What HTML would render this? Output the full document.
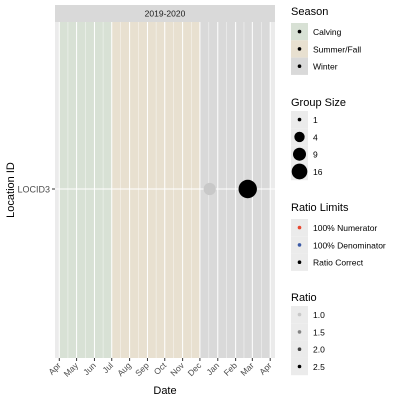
<!DOCTYPE html>
<html><head><meta charset="utf-8"><style>
body{margin:0;background:#fff;font-family:"Liberation Sans",sans-serif}
svg text{font-family:"Liberation Sans",sans-serif}
</style></head><body>
<svg width="400" height="400" xmlns="http://www.w3.org/2000/svg">
<g id="plot"></g>
<g id="legend"></g>
</svg>
<script>
const months=["Apr","May","Jun","Jul","Aug","Sep","Oct","Nov","Dec","Jan","Feb","Mar","Apr"];
const monthDays=[0,30,61,91,122,153,183,214,244,275,306,335,366];
const seasonNames=["Calving","Summer/Fall","Winter"];
const seasonStart=[0,91,244];
const seasonEnd=[91,244,366];
const seasonColors=["#d8e1d5","#e8e0d0","#d9d9d9"];
const pointDays=[261,327];
const pointSizes=[4,16];
const pointRatios=[1.0,2.5];
const locations=["LOCID3"];
const NS="http://www.w3.org/2000/svg";
const P={l:55,r:275,t:22,b:358};
const x=d=>59.3+d*(270.2-59.3)/366;
const y=i=>189;
const rad=s=>3+Math.sqrt(s)*1.55;
const ratioCol=r=>{const v=Math.round(200-(r-1)/1.5*200);return `rgb(${v},${v},${v})`};
function el(t,a,p){const e=document.createElementNS(NS,t);for(const k in a)e.setAttribute(k,a[k]);p.appendChild(e);return e}
const g=document.getElementById('plot');
let e=el('rect',{x:P.l,y:P.t,width:P.r-P.l,height:P.b-P.t,fill:'#ebebeb'},g);

seasonNames.forEach((n,i)=>{const r=el('rect',{x:x(seasonStart[i]),y:P.t,width:x(seasonEnd[i])-x(seasonStart[i]),height:P.b-P.t,fill:seasonColors[i]},g);

});
for(let i=0;i<monthDays.length-1;i++){const m=(monthDays[i]+monthDays[i+1])/2;el('line',{x1:x(m),x2:x(m),y1:P.t,y2:P.b,stroke:'#fff','stroke-width':0.5,opacity:0.8},g);}
monthDays.forEach(d=>el('line',{x1:x(d),x2:x(d),y1:P.t,y2:P.b,stroke:'#fff','stroke-width':1},g));
locations.forEach((l,i)=>{el('line',{x1:P.l,x2:P.r,y1:y(i),y2:y(i),stroke:'#fff','stroke-width':1},g);
el('line',{x1:P.l-3,x2:P.l,y1:y(i),y2:y(i),stroke:'#333'},g);
const t=el('text',{x:P.l-5,y:y(i)+3.5,'text-anchor':'end','font-size':9,fill:'#4d4d4d'},g);t.textContent=l;
});
const st=el('rect',{x:P.l,y:5,width:P.r-P.l,height:17,fill:'#d9d9d9'},g);

let s=el('text',{x:(P.l+P.r)/2,y:16.5,'text-anchor':'middle','font-size':8.5,fill:'#1a1a1a'},g);s.textContent='2019-2020';
months.forEach((m,i)=>{const xx=x(monthDays[i]);el('line',{x1:xx,x2:xx,y1:P.b,y2:P.b+3,stroke:'#333'},g);
const t=el('text',{x:xx+2,y:P.b+8,'text-anchor':'end','font-size':8.5,fill:'#4d4d4d',transform:`rotate(-45 ${xx+2} ${P.b+8})`},g);t.textContent=m;
});
pointDays.forEach((d,i)=>{const c=el('circle',{cx:x(d),cy:y(0),r:rad(pointSizes[i]),fill:ratioCol(pointRatios[i])},g);
});
let t=el('text',{x:(P.l+P.r)/2,y:394,'text-anchor':'middle','font-size':11,fill:'#000'},g);t.textContent='Date';

t=el('text',{x:14,y:190,'text-anchor':'middle','font-size':11,transform:'rotate(-90 14 190)'},g);t.textContent='Location ID';

// legend
const L=document.getElementById('legend');
function legend(title,ty,items,by){const tt=el('text',{x:291,y:ty,'font-size':11},L);tt.textContent=title;
items.forEach((it,i)=>{const yy=by+i*17.3;el('rect',{x:291,y:yy,width:17,height:17.3,fill:it.bg||'#ebebeb'},L);
el('circle',{cx:299.5,cy:yy+8.6,r:it.r||1.8,fill:it.c||'#000'},L);
const tx=el('text',{x:313,y:yy+12,'font-size':8.5},L);tx.textContent=it.l;});}
legend('Season',15,seasonNames.map((n,i)=>({l:n,bg:seasonColors[i]})),23);
legend('Group Size',106,[1,4,9,16].map(s=>({l:String(s),r:s==1?1.8:rad(s)*0.85})),111);
legend('Ratio Limits',211,[{l:'100% Numerator',c:'#e8472f'},{l:'100% Denominator',c:'#3b5aa6'},{l:'Ratio Correct',c:'#000'}],219);
legend('Ratio',301,[1.0,1.5,2.0,2.5].map(r=>({l:r.toFixed(1),c:ratioCol(r)})),306);
</script>
</body></html>
